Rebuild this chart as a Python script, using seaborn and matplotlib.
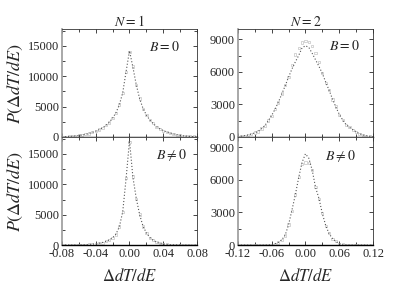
import matplotlib
matplotlib.use("Agg")
import matplotlib.pyplot as plt
from matplotlib.ticker import MultipleLocator
import numpy as np
import pandas as pd
import seaborn as sns

# x grids (one per column)
x_n1 = np.round(np.arange(-0.080, 0.0801, 0.004), 3)
x_n2 = np.round(np.arange(-0.120, 0.1201, 0.006), 3)

# N = 1, B = 0
fit_n1_b0 = [30, 50, 80, 120, 180, 250, 340, 450, 580, 750, 950, 1200, 1500, 1900, 2400, 3100, 4000, 5300, 7300, 10800,
             14200,
             11500, 8600, 6300, 4700, 3600, 2800, 2200, 1700, 1350, 1050, 820, 640, 490, 370, 270, 190, 130, 90, 60, 40]
dat_n1_b0 = [20, 60, 70, 130, 170, 260, 330, 470, 560, 770, 930, 1220, 1480, 1930, 2380, 3150, 3950, 5350, 7250, 10700,
             14000,
             11600, 8500, 6350, 4650, 3650, 2750, 2250, 1680, 1380, 1030, 840, 620, 510, 350, 290, 180, 140, 80, 70, 30]

# N = 1, B != 0
fit_n1_b1 = [5, 8, 12, 18, 25, 35, 50, 70, 100, 140, 200, 290, 420, 600, 850, 1200, 1800, 3000, 5500, 11000,
             17200,
             11200, 7700, 5000, 3100, 2000, 1250, 800, 480, 260, 160, 100, 70, 50, 35, 25, 18, 12, 8, 5, 3]
dat_n1_b1 = [0, 10, 10, 20, 20, 40, 45, 75, 95, 150, 190, 300, 400, 620, 830, 1230, 1750, 3050, 5450, 11100,
             17000,
             11300, 7600, 5050, 3050, 2050, 1200, 830, 460, 280, 150, 110, 60, 55, 30, 30, 15, 15, 5, 8, 0]

# N = 2, B = 0
fit_n2_b0 = [40, 70, 120, 180, 270, 380, 520, 750, 1050, 1480, 1970, 2550, 3200, 3950, 4700, 5500, 6250, 6900, 7500, 8200,
             8400,
             8250, 7700, 7100, 6500, 5850, 5050, 4300, 3500, 2750, 2100, 1570, 1150, 900, 680, 470, 300, 180, 110, 60, 30]
dat_n2_b0 = [30, 90, 110, 200, 250, 410, 500, 780, 1020, 1520, 1940, 2600, 3170, 4000, 4750, 5550, 6600, 7600, 8200, 8700,
             8850,
             8750, 8400, 7700, 6900, 5900, 5000, 4350, 3450, 2800, 2050, 1600, 1120, 930, 650, 490, 280, 200, 100, 70, 20]

# N = 2, B != 0
fit_n2_b1 = [0, 0, 0, 0, 0, 0, 0, 0, 5, 15, 40, 110, 250, 480, 900, 1850, 3200, 4600, 6200, 7600,
             8400,
             8000, 6900, 5300, 4300, 2900, 1800, 1050, 600, 320, 130, 40, 15, 5, 0, 0, 0, 0, 0, 0, 0]
dat_n2_b1 = [0, 0, 0, 0, 0, 0, 0, 0, 10, 20, 30, 120, 240, 500, 880, 1900, 3150, 4650, 6300, 7450,
             7600,
             7550, 6900, 5350, 4250, 2950, 1750, 1080, 580, 340, 120, 50, 10, 5, 0, 0, 0, 0, 0, 0, 0]

titles = [r"$N = 1$", r"$N = 2$"]
labels_b = [r"$B = 0$", r"$B \neq 0$"]

sns.set_style("ticks")
plt.rcParams["font.family"] = ["Liberation Serif", "DejaVu Serif"]
plt.rcParams["mathtext.fontset"] = "stix"
plt.rcParams["xtick.direction"] = "in"
plt.rcParams["ytick.direction"] = "in"

fig, axes = plt.subplots(2, 2, figsize=(4.15, 2.89), dpi=100, sharex="col")
fig.subplots_adjust(left=0.149, right=0.899, top=0.90, bottom=0.152, hspace=0, wspace=0.30)

panels = [
    (axes[0, 0], x_n1, fit_n1_b0, dat_n1_b0),
    (axes[1, 0], x_n1, fit_n1_b1, dat_n1_b1),
    (axes[0, 1], x_n2, fit_n2_b0, dat_n2_b0),
    (axes[1, 1], x_n2, fit_n2_b1, dat_n2_b1),
]

for ax, xs, fit, dat in panels:
    df = pd.DataFrame({"x": xs, "fit": fit, "dat": dat})
    sns.scatterplot(data=df, x="x", y="dat", ax=ax, marker="s", s=2.5,
                    facecolor="none", edgecolor="#c4c4c4", linewidth=0.5, zorder=2)
    sns.lineplot(data=df, x="x", y="fit", ax=ax, color="#555555",
                 linestyle=(0, (1, 1.8)), linewidth=0.8, zorder=3)
    ax.set_xlabel("")
    ax.set_ylabel("")
    ax.tick_params(which="both", top=True, right=True, labelsize=9, width=0.6, pad=2)
    ax.tick_params(which="major", length=3)
    ax.tick_params(which="minor", length=2)
    for side in ["top", "right"]:
        ax.spines[side].set_linewidth(0.6)
        ax.spines[side].set_color("#333333")
    ax.spines["bottom"].set_linewidth(1.0)
    ax.spines["bottom"].set_color("black")
    ax.spines["left"].set_linewidth(1.2)
    ax.spines["left"].set_color("#9a9a9a")

for r in range(2):
    a = axes[r, 0]
    a.set_xlim(-0.08, 0.08)
    a.set_ylim(0, 17800)
    a.xaxis.set_major_locator(MultipleLocator(0.04))
    a.xaxis.set_minor_locator(MultipleLocator(0.02))
    a.yaxis.set_major_locator(MultipleLocator(5000))
    a.yaxis.set_minor_locator(MultipleLocator(2500))
    a.set_ylabel(r"$P(\Delta dT/dE)$", fontsize=13, labelpad=2)
    b = axes[r, 1]
    b.set_xlim(-0.12, 0.12)
    b.set_ylim(0, 9950)
    b.xaxis.set_major_locator(MultipleLocator(0.06))
    b.xaxis.set_minor_locator(MultipleLocator(0.03))
    b.yaxis.set_major_locator(MultipleLocator(3000))
    b.yaxis.set_minor_locator(MultipleLocator(1500))

for c in range(2):
    axes[0, c].set_title(titles[c], fontsize=10, pad=1)
    axes[1, c].set_xlabel(r"$\Delta dT/dE$", fontsize=12, labelpad=6)
    axes[1, c].xaxis.set_major_formatter(matplotlib.ticker.FormatStrFormatter("%.2f"))

text_pos = [[(0.76, 0.83), (0.79, 0.84)], [(0.81, 0.83), (0.76, 0.82)]]
for r in range(2):
    for c in range(2):
        x, y = text_pos[r][c]
        axes[r, c].text(x, y, labels_b[r], transform=axes[r, c].transAxes,
                        ha="center", va="center", fontsize=10)

fig.savefig("out.png", dpi=100)
